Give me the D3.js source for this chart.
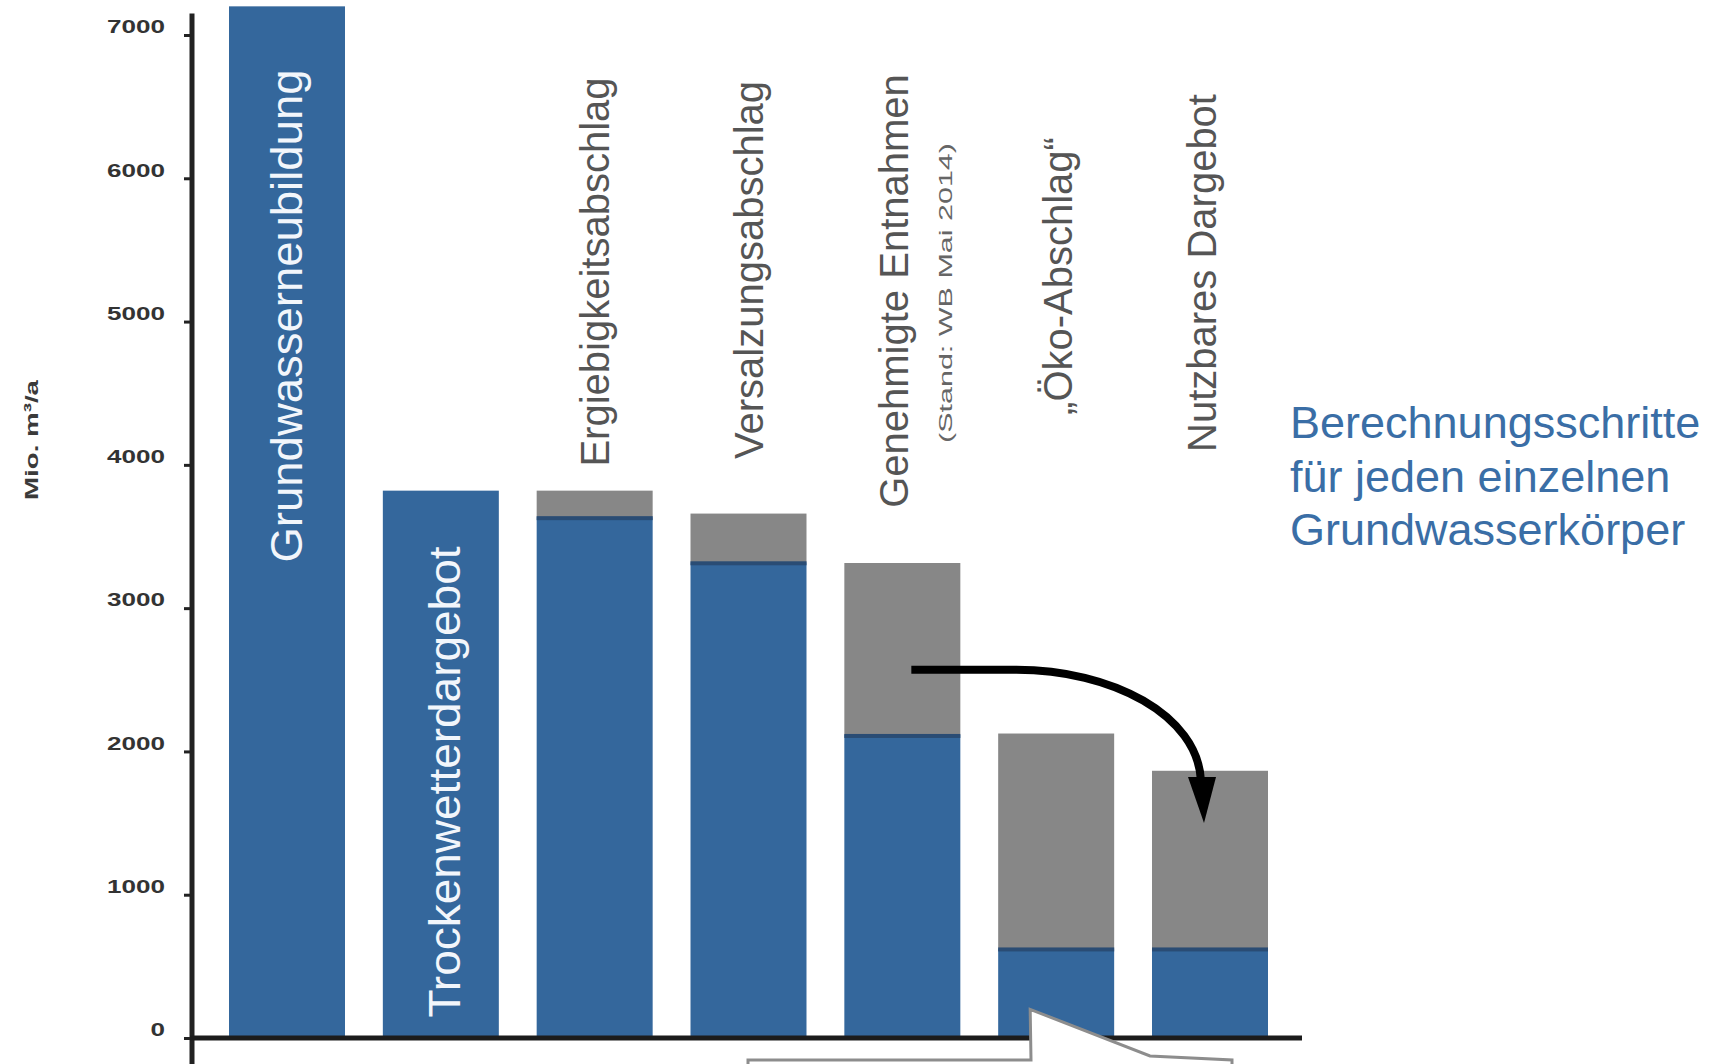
<!DOCTYPE html>
<html>
<head>
<meta charset="utf-8">
<script src="https://cdn.jsdelivr.net/npm/d3@7"></script>
<style>
  body { margin: 0; background: #fff; }
  svg { display: block; font-family: "Liberation Sans", Arial, sans-serif; }
</style>
</head>
<body>
<svg id="chart"></svg>
<script>
// Data (Mio. m³/a)
var categories = ['Grundwasserneubildung', 'Trockenwetterdargebot', 'Ergiebigkeitsabschlag',
                  'Versalzungsabschlag', 'Genehmigte Entnahmen', 'Öko-Abschlag', 'Nutzbares Dargebot'];
var blueValues = [7200, 3820, 3635, 3320, 2115, 625, 625];
var greyValues = [0, 0, 185, 340, 1200, 1500, 1240];
var barLabels = ['Grundwasserneubildung', 'Trockenwetterdargebot', 'Ergiebigkeitsabschlag',
                 'Versalzungsabschlag', 'Genehmigte Entnahmen', '\u201EÖko-Abschlag\u201C', 'Nutzbares Dargebot'];
var subLabel = '(Stand: WB Mai 2014)';
var yTicks = [0, 1000, 2000, 3000, 4000, 5000, 6000, 7000];
var noteLines = ['Berechnungsschritte', 'für jeden einzelnen', 'Grundwasserkörper'];

var svgWidth = 1716, svgHeight = 1064;
var blue = '#34679c', grey = '#878787';

var svg = d3.select('#chart')
    .attr('width', svgWidth)
    .attr('height', svgHeight);

// Scales
var x = d3.scaleBand()
    .domain(categories)
    .range([229, 1268])
    .paddingInner(0.246)
    .paddingOuter(0);

var y = d3.scaleLinear()
    .domain([0, 7000])
    .range([1038, 35]);

// Stack the two parts of each bar
var table = categories.map(function(c, i) {
    return { cat: c, blue: blueValues[i], grey: greyValues[i] };
});
var series = d3.stack().keys(['blue', 'grey'])(table);

svg.append('g').selectAll('g')
    .data(series)
  .enter().append('g')
    .attr('fill', function(d) { return d.key === 'blue' ? blue : grey; })
  .selectAll('rect')
    .data(function(d) { return d; })
  .enter().append('rect')
    .attr('x', function(d) { return x(d.data.cat); })
    .attr('width', x.bandwidth())
    .attr('y', function(d) { return y(d[1]); })
    .attr('height', function(d) { return y(d[0]) - y(d[1]); });

// thin dark seam where blue meets grey
svg.append('g').selectAll('rect')
    .data(table.filter(function(d) { return d.grey > 0; }))
  .enter().append('rect')
    .attr('x', function(d) { return x(d.cat); })
    .attr('width', x.bandwidth())
    .attr('y', function(d) { return y(d.blue) - 1; })
    .attr('height', 4)
    .attr('fill', '#2a4c74');

// Y axis
var yAxis = svg.append('g')
    .attr('transform', 'translate(192,0)')
    .call(d3.axisLeft(y).tickValues(yTicks).tickSize(8).tickPadding(19).tickFormat(d3.format('d')));
yAxis.select('.domain').remove();
yAxis.selectAll('.tick line').attr('stroke', '#222').attr('stroke-width', 3);
yAxis.selectAll('.tick text')
    .attr('fill', '#333')
    .attr('dy', '-0.12em')
    .style('font-size', '19px')
    .style('font-weight', 'bold')
    .attr('textLength', function(d) { return String(d).length * 14.5; })
    .attr('lengthAdjust', 'spacingAndGlyphs');

svg.append('line')
    .attr('x1', 192).attr('x2', 192)
    .attr('y1', y(7150)).attr('y2', svgHeight)
    .attr('stroke', '#222').attr('stroke-width', 5);

// X axis line
svg.append('line')
    .attr('x1', 190).attr('x2', 1302)
    .attr('y1', y(0)).attr('y2', y(0))
    .attr('stroke', '#1c1c1c').attr('stroke-width', 5);

// Y axis title
svg.append('text')
    .attr('transform', 'translate(38,440) rotate(-90)')
    .attr('text-anchor', 'middle')
    .attr('fill', '#3a3a3a')
    .style('font-size', '19px')
    .style('font-weight', 'bold')
    .attr('textLength', 120)
    .attr('lengthAdjust', 'spacingAndGlyphs')
    .text('Mio. m³/a');

// Bar labels: first two white inside the bars, others grey above them
var labelMid = [316, 782, 272, 270, 291, 276, 273];
var labelShift = [0, 4, 0, 0, -8, 2, -8];
var labelLen = [493, 471, 0, 0, 0, 0, 0];

svg.append('g').selectAll('text')
    .data(barLabels)
  .enter().append('text')
    .attr('transform', function(d, i) {
        var cx = x(categories[i]) + x.bandwidth() / 2 + labelShift[i];
        return 'translate(' + cx + ',' + labelMid[i] + ') rotate(-90)';
    })
    .attr('text-anchor', 'middle')
    .attr('dy', '0.35em')
    .attr('fill', function(d, i) { return i < 2 ? '#f2f6fb' : '#555'; })
    .style('font-size', function(d, i) { return i < 2 ? '44px' : '40px'; })
    .each(function(d, i) {
        if (labelLen[i]) {
            d3.select(this).attr('textLength', labelLen[i]).attr('lengthAdjust', 'spacingAndGlyphs');
        }
    })
    .text(function(d) { return d; });

svg.append('text')
    .attr('transform', 'translate(' + (x(categories[4]) + x.bandwidth() / 2 + 43) + ',293) rotate(-90)')
    .attr('text-anchor', 'middle')
    .attr('dy', '0.35em')
    .attr('fill', '#666')
    .style('font-size', '19px')
    .attr('textLength', 300)
    .attr('lengthAdjust', 'spacingAndGlyphs')
    .text(subLabel);

// Curved arrow from the permitted withdrawals to the usable supply
var x0 = x(categories[4]) + x.bandwidth() / 2 + 9, y0 = y(2570);
var x1 = x(categories[6]) + x.bandwidth() / 2 - 6, y1 = y(1500);
svg.append('path')
    .attr('d', 'M' + x0 + ',' + y0 + ' L' + (x0 + 105) + ',' + y0 +
               ' C' + (x0 + 200) + ',' + y0 + ' ' + (x1 - 6) + ',' + (y0 + 45) + ' ' + (x1 - 3) + ',' + (y1 - 42))
    .attr('fill', 'none')
    .attr('stroke', '#000')
    .attr('stroke-width', 8);
svg.append('path')
    .attr('d', 'M' + (x1 - 16) + ',' + (y1 - 46) + ' L' + (x1 + 12) + ',' + (y1 - 46) + ' L' + x1 + ',' + y1 + ' Z')
    .attr('fill', '#000');

// Callout box cut off at the bottom edge, its pointer reaching into the Öko bar
var tipX = x(categories[5]) + 32, tipY = y(200);
svg.append('path')
    .attr('d', 'M748,' + (svgHeight + 2) + ' L748,1060 L1031,1060 L' + tipX + ',' + tipY +
               ' L1150,1056 L1232,1060 L1232,' + (svgHeight + 2))
    .attr('fill', '#fff')
    .attr('stroke', '#8d8d8d')
    .attr('stroke-width', 3);

// Note on the right
svg.append('g').selectAll('text')
    .data(noteLines)
  .enter().append('text')
    .attr('x', 1290)
    .attr('y', function(d, i) { return 438 + i * 53.5; })
    .attr('fill', '#3a6ea6')
    .style('font-size', '45px')
    .text(function(d) { return d; });
</script>
</body>
</html>
